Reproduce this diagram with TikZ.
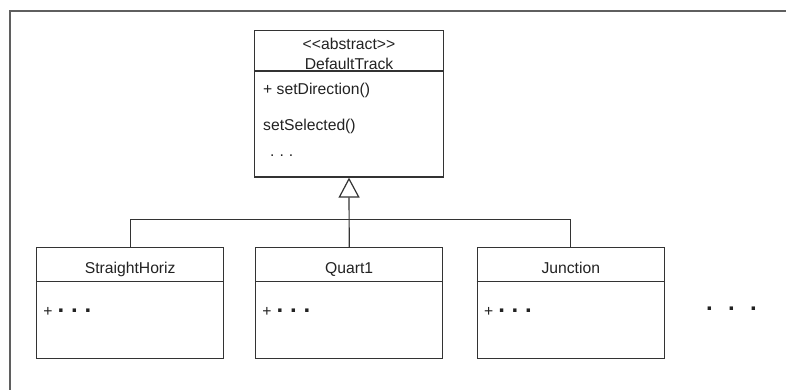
\documentclass[tikz,border=0pt]{standalone}
\usepackage{fontspec}
\setmainfont{Liberation Sans}
\usetikzlibrary{arrows.meta}
\definecolor{frm}{HTML}{5F5F5F}
\definecolor{ln}{HTML}{333333}
\definecolor{tx}{HTML}{222222}
\newcommand\plusdots{+\hspace{5.1pt}\raisebox{3.3pt}{\fontsize{24}{24}\bfseries.\hspace{6.8pt}.\hspace{6.8pt}.}}
\begin{document}
\begin{tikzpicture}[x=1pt,y=-1pt,
  cls/.style={draw=ln, line width=1.2pt, rectangle, minimum width=187pt, inner sep=0pt},
  txt/.style={inner sep=0pt, text=tx, font=\fontsize{15.7}{18}\selectfont},
  conn/.style={draw=ln, line width=1.2pt}]
\useasboundingbox (0,0) rectangle (786,390);
\draw[frm, line width=2pt] (9.7,392) -- (9.7,10.7) -- (788,10.7);

% abstract class
\node[cls, minimum width=189pt, minimum height=146.3pt] (top) at (349,103.85) {};
\draw[conn] ([yshift=-41pt]top.north west) -- ([yshift=-41pt]top.north east);
\node[txt, anchor=base] (abs) at (349,49.3) {<\kern0pt<abstract>\kern0pt>};
\node[txt, anchor=base] (dtn) at (349,70) {DefaultTrack};
\node[txt, anchor=base west] (m1) at (263,95) {+ setDirection()};
\node[txt, anchor=base west] (m2) at (263,130.7) {setSelected()};
\node[txt, anchor=base west] (m3) at (270,156.5) {.\hspace{5pt}.\hspace{5pt}.};

% subclasses
\node[cls, minimum height=111pt] (sh) at (130.2,303) {};
\node[cls, minimum height=111pt] (q1) at (349.2,303) {};
\node[cls, minimum height=111pt] (ju) at (570.8,303) {};
\foreach \n in {sh,q1,ju}{
  \draw[conn] ([yshift=-34.5pt]\n.north west) -- ([yshift=-34.5pt]\n.north east);
}
\node[txt, anchor=base] (sht) at (130.2,273) {StraightHoriz};
\node[txt, anchor=base] (q1t) at (349.2,273) {Quart1};
\node[txt, anchor=base] (jut) at (570.8,273) {Junction};
\node[txt, anchor=base west] (shm) at (43.2,316) {\plusdots};
\node[txt, anchor=base west] (q1m) at (262.2,316) {\plusdots};
\node[txt, anchor=base west] (jum) at (483.8,316) {\plusdots};
\node[txt, font=\fontsize{24}{24}\bfseries\selectfont] (more) at (731.5,309) {.\hspace{15.3pt}.\hspace{15.3pt}.};

% connectors
\coordinate (jn) at (349.2,219.5);
\draw[conn] (sh.north) |- (jn) -| (ju.north);
\draw[conn, -{Triangle[open,length=20pt,width=21pt]}] (q1.north) -- (top.south);
\end{tikzpicture}
\end{document}
